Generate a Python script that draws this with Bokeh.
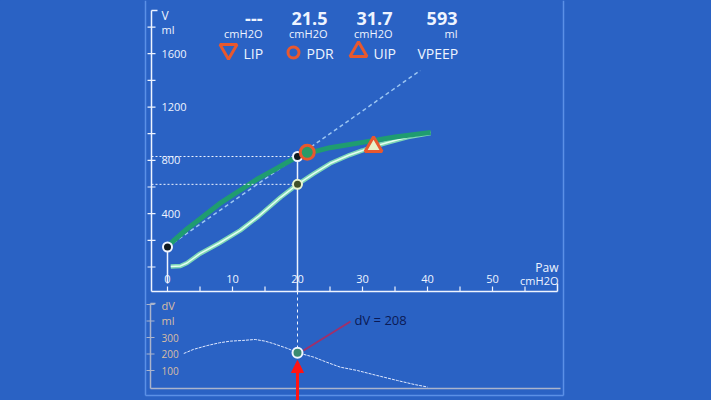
from bokeh.plotting import figure
from bokeh.models import Range1d, Arrow, NormalHead, GlobalInlineStyleSheet
from bokeh.core.properties import value
from bokeh.embed import file_html
from bokeh.resources import INLINE

# ---------------- data ----------------
# inflation limb (lower curve): pressure (cmH2O) / volume (ml)
infl_p = [0.5, 2, 3, 5, 8, 11.2, 14, 17.4, 20, 22.5, 25, 28, 30, 31.7, 34, 37, 40.5]
infl_v = [3, 8, 30, 100, 180, 275, 380, 523, 620, 700, 776, 840, 874, 904, 936, 975, 1005]
# deflation limb (upper curve)
defl_p = [0, 1, 3, 5, 8, 11, 14, 17, 20, 22, 25, 30, 35, 40.5]
defl_v = [150, 200, 285, 360, 475, 570, 665, 745, 829, 858, 895, 935, 975, 1010]
# reference line (dashed)
lin_p = [0, 38.9]
lin_v = [150, 1474]
# dV curve (bottom panel)
dv_p = [2.5, 4, 6.1, 8, 9.7, 11.5, 13.5, 15, 16.3, 18.5, 20, 22.5, 24.5, 26.6, 29.2, 32, 35.4, 38, 40]
dv_v = [203, 228, 251, 268, 278, 282, 288, 278, 263, 233, 208, 181, 150, 120, 100, 72, 39, 15, 0]

x_ticks = [0, 10, 20, 30, 40, 50]
x_tick_labels = ["0", "10", "20", "30", "40", "50"]
x_minor = [0, 5, 10, 15, 20, 25, 30, 35, 40, 45, 50, 55]
v_ticks = [400, 800, 1200, 1600]
v_tick_labels = ["400", "800", "1200", "1600"]
v_minor = [0, 200, 400, 600, 800, 1000, 1200, 1400, 1600, 1800]
dv_ticks = [100, 200, 300]
dv_tick_labels = ["100", "200", "300"]
dv_minor = [100, 200, 300, 400, 500]

header_values = ["---", "21.5", "31.7", "593"]
header_units = ["cmH2O", "cmH2O", "cmH2O", "ml"]
legend_names = ["LIP", "PDR", "UIP", "VPEEP"]

start_p, start_v = [0], [150]
sel_p = [20]
sel_defl_v = [829]
sel_infl_v = [620]
sel_dv = [208]
pdr_p, pdr_v = [21.5], [860]
uip_p, uip_v = [31.7], [904]
dv_label = "dV = 208"

# ---------------- layout (screen px -> data) ----------------
W, H = 711, 400
OFF = 0
X0, PXP = 167.0, 6.5          # screen x of P=0, px per cmH2O
V0, PXV = 266.5, 0.1333       # screen y of V=0, px per ml
D0, PXD = 386.5, 0.165        # screen y of dV=0, px per ml


def P(sx):
    return (sx - X0) / PXP


def V(sy):
    return (V0 - sy) / PXV


def D(sy):
    return (D0 - sy) / PXD


BG = "#2a62c4"
WHITE = "#eef4ff"
RED = "#e8582e"
FONT = value("Open Sans")

p = figure(width=W, height=H, output_backend="svg", toolbar_location=None,
           x_axis_type=None, y_axis_type=None,
           x_range=Range1d(P(OFF), P(OFF + W)), y_range=Range1d(V(OFF + H), V(OFF)),
           min_border=0, background_fill_color=BG, border_fill_color=BG,
           outline_line_color=None)
p.grid.visible = False
p.extra_y_ranges = {"dv": Range1d(D(OFF + H), D(OFF))}
p.stylesheets = [GlobalInlineStyleSheet(css="body{background-color:%s;}" % BG)]


def txt(xs, ys, texts, size, color=WHITE, align="left", baseline="middle",
        style="normal", rng="default"):
    p.text(x=xs, y=ys, text=texts, text_font=FONT, text_font_size=value(size),
           text_color=color, text_align=align, text_baseline=baseline,
           text_font_style=style, y_range_name=rng)


# outer frame
FR = "#5b90e6"
p.segment(x0=[P(145), P(563)], y0=[V(0), V(0)], x1=[P(145), P(563)], y1=[V(395), V(395)],
          line_color=FR, line_width=1.5)
p.segment(x0=[P(145)], y0=[V(395)], x1=[P(563)], y1=[V(395)], line_color=FR, line_width=1.5)

# ---------- top panel axes ----------
ax_p = P(151)
ax_v = V(291)
p.segment(x0=[ax_p], y0=[ax_v], x1=[ax_p], y1=[V(10)], line_color=WHITE, line_width=1.5)
p.segment(x0=[ax_p], y0=[V(10)], x1=[P(157)], y1=[V(10)], line_color=WHITE, line_width=1.5)
p.segment(x0=[ax_p], y0=[ax_v], x1=[P(557)], y1=[ax_v], line_color=WHITE, line_width=1.5)
p.segment(x0=[P(557)], y0=[ax_v], x1=[P(557)], y1=[V(283)], line_color=WHITE, line_width=1.5)
p.segment(x0=x_minor, y0=[ax_v] * len(x_minor), x1=x_minor, y1=[V(286)] * len(x_minor),
          line_color=WHITE, line_width=1.2)
p.segment(x0=[P(147)] * len(v_minor), y0=v_minor, x1=[P(155)] * len(v_minor), y1=v_minor,
          line_color=WHITE, line_width=1.2)
txt(x_ticks, [V(278)] * len(x_ticks), x_tick_labels, "11px", align="center")
txt([P(161)] * len(v_ticks), v_ticks, v_tick_labels, "11px")
txt([P(161)], [V(15)], ["V"], "12px")
txt([P(161)], [V(29)], ["ml"], "11px")
txt([P(558)], [V(267)], ["Paw"], "12px", align="right")
txt([P(558)], [V(280)], ["cmH2O"], "11px", align="right")

# ---------- header ----------
hx = [P(262), P(327), P(392), P(457)]
txt(hx, [V(18)] * 4, header_values, "18px", align="right", style="bold")
txt(hx, [V(33)] * 4, header_units, "11px", align="right")
txt([P(243), P(306), P(373), P(417)], [V(53)] * 4, legend_names, "14px")
p.scatter(x=[P(228)], y=[V(49)], marker="inverted_triangle", size=17, fill_color=None,
          line_color=RED, line_width=3)
p.scatter(x=[P(293)], y=[V(52)], marker="circle", size=11, fill_color=None,
          line_color=RED, line_width=3)
p.scatter(x=[P(358)], y=[V(51)], marker="triangle", size=17, fill_color=None,
          line_color=RED, line_width=3)

# ---------- curves ----------
p.line(lin_p, lin_v, line_color="#9cc6f2", line_width=1.5, line_dash="4 3")
p.line(infl_p, infl_v, line_color="#7ed6b6", line_width=4.5)
p.line(infl_p, infl_v, line_color="#e4fff0", line_width=1.5)
p.line(defl_p, defl_v, line_color="#1f9c70", line_width=5)

# guide lines
p.segment(x0=[ax_p, ax_p], y0=sel_defl_v + sel_infl_v, x1=sel_p * 2, y1=sel_defl_v + sel_infl_v,
          line_color=WHITE, line_width=1, line_dash="2 2")
p.segment(x0=sel_p, y0=sel_defl_v, x1=sel_p, y1=[ax_v], line_color=WHITE, line_width=1.5)
p.segment(x0=start_p, y0=start_v, x1=start_p, y1=[V(283)], line_color=WHITE, line_width=1.5)

# markers
p.scatter(x=start_p + sel_p, y=start_v + sel_defl_v, marker="circle", size=9,
          fill_color="#101a20", line_color=WHITE, line_width=2)
p.scatter(x=sel_p, y=sel_infl_v, marker="circle", size=9,
          fill_color="#405028", line_color="#e8f4d0", line_width=2)
p.scatter(x=pdr_p, y=pdr_v, marker="circle", size=14, fill_color="#2a9a68",
          line_color=RED, line_width=3)
p.scatter(x=uip_p, y=uip_v, marker="triangle", size=17, fill_color="#e8f0c8",
          line_color=RED, line_width=3)

# ---------- bottom panel ----------
GR = "#aab4cc"
LAB = "#d9bea4"
bx = P(150)
by = D(388)
p.segment(x0=[bx], y0=[by], x1=[bx], y1=[D(303)], line_color=GR, line_width=1.5, y_range_name="dv")
p.segment(x0=[bx], y0=[D(303)], x1=[P(155)], y1=[D(303)], line_color=GR, line_width=1.5, y_range_name="dv")
p.segment(x0=[bx], y0=[by], x1=[P(560)], y1=[by], line_color=GR, line_width=1.5, y_range_name="dv")
p.segment(x0=[P(146)] * len(dv_minor), y0=dv_minor, x1=[P(154)] * len(dv_minor), y1=dv_minor,
          line_color=GR, line_width=1.2, y_range_name="dv")
txt([P(161)] * len(dv_ticks), dv_ticks, dv_tick_labels, "10px", color=LAB, rng="dv")
txt([P(161)], [D(305)], ["dV"], "11px", color=LAB, rng="dv")
txt([P(161)], [D(320)], ["ml"], "11px", color=LAB, rng="dv")

p.segment(x0=sel_p, y0=[D(291)], x1=sel_p, y1=sel_dv, line_color=WHITE, line_width=1,
          line_dash="3 3", y_range_name="dv")
p.line(dv_p, dv_v, line_color="#dfe8ff", line_width=1, line_dash="3 1", y_range_name="dv")
p.segment(x0=[P(303)], y0=[D(350)], x1=[P(350)], y1=[D(321)], line_color="#a0306a",
          line_width=2, y_range_name="dv")
p.scatter(x=sel_p, y=sel_dv, marker="circle", size=10, fill_color="#3a8a70",
          line_color=WHITE, line_width=2, y_range_name="dv")
p.add_layout(Arrow(end=NormalHead(size=12, fill_color="#ff1414", line_color="#ff1414"),
                   x_start=sel_p[0], y_start=D(400), x_end=sel_p[0], y_end=D(360),
                   line_color="#ff1414", line_width=3, y_range_name="dv"))
txt([P(354)], [D(319)], [dv_label], "13px", color="#0a1a55", rng="dv")

open("out.html", "w").write(file_html(p, INLINE))
